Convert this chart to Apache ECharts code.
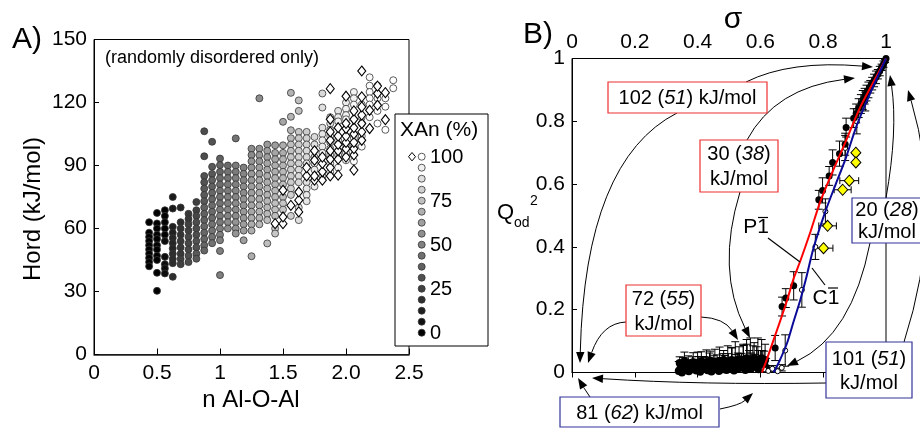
<!DOCTYPE html>
<html><head><meta charset="utf-8">
<script src="https://cdn.jsdelivr.net/npm/echarts@6/dist/echarts.min.js"></script>
<style>html,body{margin:0;padding:0;background:#fff}#c{width:920px;height:428px}</style>
</head><body><div id="c"></div>
<script>
// ---------- Panel A data ----------
const aXTickLabels = ['0','0.5','1','1.5','2.0','2.5'];
const aColX = [0.4375,0.5,0.5625,0.625,0.6875,0.75,0.8125,0.875,0.9375,1.0,1.0625,1.125,1.1875,1.25,1.3125,1.375,1.4375,1.5,1.5625,1.625,1.6875,1.75,1.8125,1.875,1.9375,2.0,2.0625,2.125,2.1875,2.25,2.3125,2.375];
// per column: [Hord, XAn]
const aColPts = [
 [[63,0],[58,0],[56,0],[54,0],[52,0],[50,0],[48,0],[46,0],[44,0],[42,0]],
 [[67.4,0],[62.4,0],[60,0],[57,0],[55,0],[52,0],[50,0],[47,0],[45,0],[38.9,0],[30.3,0]],
 [[68.7,0],[66,0],[63,0],[60,0],[57,0],[54,5],[46.5,5],[43,5],[41,5],[38.6,5]],
 [[75,10],[69.5,10],[60.8,12],[58,12],[55.5,15],[53,15],[50.5,15],[48,18],[45.5,18],[43.5,18],[37,18]],
 [[70,15],[63,18],[60,20],[57,20],[54,22],[51,22],[48,22],[45.5,25],[43,25]],
 [[67,22],[64.5,22],[62,25],[59,25],[56,28],[53,28],[50,28],[47,30],[44,30]],
 [[72.6,25],[68.7,25],[66,28],[63,30],[60,30],[57,30],[54,32],[51,32],[48,35],[45.6,35]],
 [[106.3,30],[94.4,30],[85,32],[82,32],[79,35],[76,35],[73,35],[70,38],[67,38],[64,38],[61,40],[58,40],[55,40],[52,40],[49.5,40]],
 [[101.3,32],[89.4,35],[86,35],[83,38],[80,38],[77,40],[74,40],[71,42],[68,42],[65,42],[62,45],[59,45],[56,45],[53,45]],
 [[93.3,38],[90.2,40],[87,40],[84,42],[81,42],[78,45],[75,45],[72,45],[69,48],[66,48],[63,48],[60,50],[57,50],[54.4,50],[49.3,50],[37.8,50]],
 [[90,42],[87,45],[84,45],[81,48],[78,48],[75,50],[72,50],[69,52],[66,52],[63,55],[60,55]],
 [[102.9,45],[90,48],[87,48],[84,50],[81,50],[78,52],[75,52],[72,55],[69,55],[66,55],[63,58],[60,58],[57.6,58]],
 [[89,50],[86,52],[83,52],[80,55],[77,55],[74,58],[71,58],[68,60],[65,60],[62,62],[59,62],[54.4,62]],
 [[98,55],[95,55],[92,58],[89,58],[86,60],[83,60],[80,62],[77,62],[74,65],[71,65],[68,65],[65,68],[62,68],[59,68],[46.8,68]],
 [[122,55],[98,58],[95,60],[92,60],[89,62],[86,62],[83,65],[80,65],[77,68],[74,68],[71,70],[68,70],[65,70],[62,72]],
 [[100,60],[97,62],[94,62],[91,65],[88,65],[85,68],[82,68],[79,70],[76,70],[73,72],[70,72],[67,72],[64,75],[52.9,75]],
 [[99.6,62],[96,65],[93,65],[90,68],[87,68],[84,70],[81,70],[78,72],[75,72],[72,75],[69,75],[66,75],[60,78],[57.6,78]],
 [[110.8,65],[99.6,68],[96,68],[93,70],[90,70],[87,72],[84,72],[81,75],[75,75],[72,78],[69,78]],
 [[124.6,70],[113.2,70],[106.8,72],[103,72],[100,75],[97,75],[94,78],[91,78],[88,80],[85,80],[82,80],[79,82],[76,82],[66,82]],
 [[121,75],[116,75],[106,78],[103,78],[100,80],[97,80],[94,82],[91,82],[88,85],[85,85],[82,85],[70,88],[64,88]],
 [[106,80],[103,82],[100,82],[97,85],[94,85],[91,88],[82,88],[79,90],[76,90],[73,90]],
 [[103.6,85],[100,88],[94,88],[91,90],[88,92],[80,92]],
 [[124.3,85],[117.6,88],[108,88],[105,90],[102,92],[99,92],[96,95],[85,95]],
 [[113,88],[110,90],[107,92],[104,95],[101,95],[98,95],[95,98],[91,98],[87,98]],
 [[116,90],[113,92],[111,95],[102,95],[95,98],[89,98]],
 [[120,92],[117,95],[114,95],[112,98],[100,98],[96,100],[92.5,100]],
 [[125,95],[122,95],[119,98],[103,98],[99,100],[92,100]],
 [[119,95],[113,98],[110,100],[104,100],[99,100]],
 [[132,98],[128,98],[125,100],[122,100],[119,100],[113,100]],
 [[128,100],[122,100],[116,100],[110,100]],
 [[122,100],[118,100],[107,100]],
 [[130.6,100],[126.8,100]]
];
const aDiamonds = [
 [1.4375,62.3],[1.5,62.3],[1.5,65.5],[1.5,78.2],[1.5625,71],[1.625,67.9],[1.625,73.5],[1.625,77.4],[1.6875,85],[1.6875,89],
 [1.75,83],[1.75,85],[1.75,92.5],[1.75,97],[1.8125,83],[1.8125,87],[1.8125,91],[1.8125,94],[1.875,85],[1.875,89],[1.875,93],
 [1.875,97],[1.875,102],[1.875,106],[1.875,112],[1.875,126.6],[1.9375,85.4],[1.9375,93],[1.9375,97],[1.9375,100],[1.9375,104],
 [1.9375,108],[2.0,94],[2.0,98],[2.0,101],[2.0,104],[2.0,107.6],[2.0,110],[2.0,123],[2.0625,87.8],[2.0625,95],[2.0625,98],
 [2.0625,101],[2.0625,105],[2.0625,108],[2.0625,112],[2.0625,116],[2.125,102],[2.125,106],[2.125,110],[2.125,114],[2.125,117.9],
 [2.125,122.7],[2.125,135],[2.1875,107.6],[2.1875,116.3],[2.25,118.7],[2.25,124.3],[2.25,127.8],[2.3125,111.8],[2.3125,124.7]
];
const aLegendXAn = [100,93.75,87.5,81.25,75,68.75,62.5,56.25,50,43.75,37.5,31.25,25,18.75,12.5,6.25,0];
const aLegendLabels = {0:'100',4:'75',8:'50',12:'25',16:'0'};

// ---------- Panel B data ----------
const bTickLabels = ['0','0.2','0.4','0.6','0.8','1'];
const bRedCurve = [[0.605,0],[0.62,0.04],[0.642,0.104],[0.665,0.17],[0.685,0.23],[0.706,0.3],[0.727,0.355],[0.76,0.45],[0.791,0.545],[0.83,0.64],[0.865,0.72],[0.918,0.845],[0.96,0.925],[1,1]];
const bBlueCurve = [[0.642,0],[0.66,0.035],[0.685,0.094],[0.705,0.16],[0.727,0.231],[0.748,0.31],[0.769,0.396],[0.807,0.513],[0.84,0.6],[0.87,0.677],[0.908,0.79],[0.95,0.89],[1,1]];
// [sigma, Q, errLow, errHigh]
const bBlackPts = [
 [0.647,0.078,0.04,0.04],[0.669,0.21,0.03,0.03],[0.681,0.237,0.03,0.03],[0.706,0.276,0.045,0.045],[0.786,0.55,0.03,0.03],
 [0.798,0.58,0.04,0.04],[0.819,0.626,0.03,0.03],[0.83,0.669,0.04,0.04],[0.852,0.697,0.04,0.04],[0.87,0.727,0.035,0.035],
 [0.873,0.78,0.03,0.03],[0.897,0.81,0.03,0.03],[0.905,0.825,0.03,0.03],[0.913,0.842,0.03,0.03],[0.92,0.855,0.03,0.03],
 [0.926,0.868,0.03,0.03],[0.932,0.88,0.025,0.025],[0.938,0.89,0.025,0.025],[0.944,0.9,0.025,0.025],[0.95,0.91,0.02,0.02],
 [0.956,0.92,0.02,0.02],[0.962,0.93,0.02,0.02],[0.968,0.94,0.02,0.02],[0.974,0.95,0.015,0.015],[0.98,0.96,0.015,0.015],
 [0.986,0.972,0.01,0.01],[0.992,0.982,0.01,0.01],[0.997,0.992,0.005,0.005],[1,1,0,0]
];
const bOpenPts = [
 [0.679,0.07,0.05,0.05],[0.732,0.263,0.055,0.055],[0.775,0.40,0.04,0.04],[0.807,0.513,0.04,0.04],[0.87,0.715,0.04,0.04],
 [0.907,0.80,0.04,0.04],[0.934,0.863,0.03,0.03],[0.612,0.01,0.01,0.01],[0.625,0.005,0.005,0.01],[0.638,0.012,0.01,0.01],
 [0.655,0.004,0.004,0.01],[0.668,0.015,0.01,0.01]
];
// [sigma, Q, xerr]
const bYellowPts = [[0.904,0.70,0],[0.904,0.669,0],[0.883,0.611,0.03],[0.862,0.582,0.027],[0.814,0.467,0.028],[0.801,0.396,0.03]];
const bBottomPts = [
 [0.34,0.005,0,0.03],[0.345,0.012,0,0.025],[0.35,0.0,0,0.02],[0.355,0.018,0,0.03],[0.36,0.008,0,0.035],[0.366,0.02,0,0.02],
 [0.372,0.004,0,0.03],[0.378,0.015,0,0.025],[0.384,0.01,0,0.04],[0.39,0.022,0,0.02],[0.396,0.006,0,0.03],[0.402,0.016,0,0.035],
 [0.408,0.002,0,0.03],[0.414,0.019,0,0.03],[0.42,0.011,0,0.04],[0.426,0.024,0,0.025],[0.432,0.007,0,0.03],[0.438,0.017,0,0.045],
 [0.444,0.003,0,0.03],[0.45,0.02,0,0.035],[0.456,0.012,0,0.03],[0.462,0.026,0,0.03],[0.468,0.005,0,0.04],[0.474,0.018,0,0.03],
 [0.48,0.01,0,0.05],[0.486,0.024,0,0.03],[0.492,0.008,0,0.035],[0.498,0.02,0,0.04],[0.504,0.014,0,0.03],[0.51,0.028,0,0.05],
 [0.516,0.006,0,0.04],[0.522,0.022,0,0.035],[0.528,0.012,0,0.05],[0.534,0.03,0,0.03],[0.54,0.016,0,0.045],[0.546,0.026,0,0.06],
 [0.552,0.008,0,0.04],[0.558,0.02,0,0.07],[0.564,0.03,0,0.04],[0.57,0.012,0,0.05],[0.576,0.025,0,0.06],[0.582,0.018,0,0.04],
 [0.588,0.032,0,0.05],[0.594,0.01,0,0.06],[0.6,0.03,0,0.04],[0.606,0.02,0,0.05],[0.612,0.028,0,0.04],[0.618,0.015,0,0.03],
 [0.343,0.03,0,0.02],[0.358,0.035,0,0.03],[0.37,0.028,0,0.025],[0.386,0.033,0,0.03],[0.4,0.03,0,0.035],[0.412,0.036,0,0.03],
 [0.428,0.032,0,0.04],[0.44,0.038,0,0.03],[0.455,0.034,0,0.04],[0.47,0.036,0,0.045],[0.483,0.04,0,0.03],[0.496,0.035,0,0.05],
 [0.508,0.04,0,0.04],[0.52,0.038,0,0.06],[0.532,0.042,0,0.04],[0.545,0.04,0,0.05],[0.556,0.045,0,0.06],[0.568,0.04,0,0.07],
 [0.58,0.045,0,0.05],[0.592,0.04,0,0.07],[0.604,0.045,0,0.06],[0.615,0.04,0,0.05]
];

// ---------- Annotation layout (pixels) ----------
const bBoxes = [
 {x:608,y:82,w:159,h:31,c:'#ee3030',t:'{n|102 (}{i|51}{n|) kJ/mol}',lh:24},
 {x:700,y:140,w:78,h:52,c:'#ee3030',t:'{n|30 (}{i|38}{n|)}\n{n|kJ/mol}',lh:25},
 {x:626,y:285,w:75,h:51,c:'#ee3030',t:'{n|72 (}{i|55}{n|)}\n{n|kJ/mol}',lh:25},
 {x:560,y:397,w:159,h:30,c:'#333399',t:'{n|81 (}{i|62}{n|) kJ/mol}',lh:24},
 {x:826,y:342,w:86,h:56,c:'#333399',t:'{n|101 (}{i|51}{n|)}\n{n|kJ/mol}',lh:24},
 {x:852,y:198,w:80,h:45,c:'#333399',t:'{n|20 (}{i|28}{n|)}\n{n|kJ/mol}',lh:22,cx:887}
];
const bArrows = [
 [746,82, 790,60, 873,67],
 [677,113, 585,160, 580,363],
 [747,140, 775,88, 855,78],
 [740,192, 716,270, 750,338],
 [626,322, 602,323, 588,363],
 [701,317, 724,318, 738,340],
 [590,397, 584,388, 578,378],
 [720,409, 740,405, 753,393],
 [826,383, 700,385, 592,378],
 [870,243, 852,335, 787,366],
 [886,198, 898,130, 890,75],
 [904,342, 945,215, 908,90]
];

const FONT = "'Liberation Sans', Arial, sans-serif";
function grayOf(an){ const v = Math.round(255*an/100); return 'rgb('+v+','+v+','+v+')'; }

const aCircleData = [];
aColX.forEach((x,i)=>aColPts[i].forEach(p=>aCircleData.push([x,p[0],p[1]])));

function vErr(params, api){
  const x=api.value(0), y=api.value(1), lo=api.value(2), hi=api.value(3);
  if (lo===0 && hi===0) return null;
  const p0=api.coord([x,y-lo]), p1=api.coord([x,y+hi]); const w=4;
  const st={stroke:'#000',lineWidth:1};
  const ch=[{type:'line',shape:{x1:p0[0],y1:p0[1],x2:p1[0],y2:p1[1]},style:st},
    {type:'line',shape:{x1:p1[0]-w,y1:p1[1],x2:p1[0]+w,y2:p1[1]},style:st}];
  if (lo>0) ch.push({type:'line',shape:{x1:p0[0]-w,y1:p0[1],x2:p0[0]+w,y2:p0[1]},style:st});
  return {type:'group',children:ch};
}
function hErr(params, api){
  const x=api.value(0), y=api.value(1), e=api.value(2);
  if (e===0) return null;
  const p0=api.coord([x-e,y]), p1=api.coord([x+e,y]); const w=3.5;
  const st={stroke:'#000',lineWidth:1};
  return {type:'group',children:[
    {type:'line',shape:{x1:p0[0],y1:p0[1],x2:p1[0],y2:p1[1]},style:st},
    {type:'line',shape:{x1:p0[0],y1:p0[1]-w,x2:p0[0],y2:p0[1]+w},style:st},
    {type:'line',shape:{x1:p1[0],y1:p1[1]-w,x2:p1[0],y2:p1[1]+w},style:st}
  ]};
}

const graphics = [];
function txt(x,y,text,size,opts){
  graphics.push({type:'text',x:x,y:y,z:100,style:Object.assign({text:text,font:size+'px '+FONT,fill:'#000',textAlign:'center',textVerticalAlign:'middle'},opts||{})});
}
// panel labels / axis names
txt(27,40,'A)',30);
txt(538,35,'B)',30);
txt(733,20,'σ',30);
txt(251,400,'n Al-O-Al',24);
graphics.push({type:'text',x:33,y:209,rotation:Math.PI/2,z:100,style:{text:'Hord (kJ/mol)',font:'24px '+FONT,fill:'#000',textAlign:'center',textVerticalAlign:'middle'}});
txt(105,58,'(randomly disordered only)',18,{textAlign:'left'});
txt(497,213,'Q',22,{textAlign:'left'});
txt(514,223,'od',14,{textAlign:'left'});
txt(530,201,'2',14,{textAlign:'left'});
// legend A
graphics.push({type:'rect',z:90,shape:{x:395,y:114,width:93,height:232},style:{fill:'#fff',stroke:'#000',lineWidth:1}});
txt(400,130,'XAn (%)',21,{textAlign:'left'});
aLegendXAn.forEach((an,i)=>{
  const cy=156.7+11*i;
  graphics.push({type:'circle',z:100,shape:{cx:421.7,cy:cy,r:3.5},style:{fill:grayOf(an),stroke:'#333',lineWidth:0.8}});
  if (aLegendLabels[i]!==undefined) txt(430,cy+1,aLegendLabels[i],20,{textAlign:'left'});
});
graphics.push({type:'polygon',z:100,shape:{points:[[412,152.5],[415.5,156.7],[412,160.9],[408.5,156.7]]},style:{fill:'#fff',stroke:'#000',lineWidth:1}});
// arrows
bArrows.forEach(a=>{
  const [x1,y1,cx,cy,x2,y2]=a;
  const ang=Math.atan2(y2-cy,x2-cx), L=11, W=4.2;
  const bx=x2-L*Math.cos(ang), by=y2-L*Math.sin(ang);
  const px=-Math.sin(ang)*W, py=Math.cos(ang)*W;
  graphics.push({type:'bezierCurve',z:80,shape:{x1:x1,y1:y1,x2:bx,y2:by,cpx1:cx,cpy1:cy},style:{stroke:'#000',lineWidth:1,fill:null}});
  graphics.push({type:'polygon',z:80,shape:{points:[[x2,y2],[bx+px,by+py],[bx-px,by-py]]},style:{fill:'#000'}});
});
// boxes
bBoxes.forEach(b=>{
  graphics.push({type:'rect',z:90,shape:{x:b.x,y:b.y,width:b.w,height:b.h},style:{fill:'#fff',stroke:b.c,lineWidth:1.2}});
  graphics.push({type:'text',z:100,x:(b.cx||b.x+b.w/2),y:b.y+b.h/2+1,style:{text:b.t,textAlign:'center',textVerticalAlign:'middle',fill:'#000',
    rich:{n:{fontSize:20,fontFamily:FONT,lineHeight:b.lh,fill:'#000'},i:{fontSize:20,fontFamily:FONT,fontStyle:'italic',lineHeight:b.lh,fill:'#000'}}}});
});
// P-1 and C-1 labels
txt(756,227,'P1',21);
graphics.push({type:'line',z:100,shape:{x1:758,y1:217.5,x2:768,y2:217.5},style:{stroke:'#000',lineWidth:1.2}});
graphics.push({type:'line',z:100,shape:{x1:768,y1:238,x2:800,y2:262},style:{stroke:'#000',lineWidth:1.2}});
txt(826,298,'C1',21);
graphics.push({type:'line',z:100,shape:{x1:828,y1:288,x2:838,y2:288},style:{stroke:'#000',lineWidth:1.2}});
graphics.push({type:'line',z:100,shape:{x1:812,y1:268,x2:825,y2:285},style:{stroke:'#000',lineWidth:1.2}});

const lab = {fontSize:21,color:'#000',fontFamily:FONT};
const chart = echarts.init(document.getElementById('c'),null,{renderer:'canvas'});
chart.setOption({
  animation:false,
  backgroundColor:'#fff',
  grid:[
    {left:94,top:39.5,width:315,height:315,show:true,borderColor:'#000',borderWidth:1},
    {left:572,top:58.5,width:314,height:314,show:true,borderColor:'#000',borderWidth:1}
  ],
  xAxis:[
    {gridIndex:0,type:'value',min:0,max:2.5,interval:0.5,splitLine:{show:false},
     axisLine:{lineStyle:{color:'#222',width:1.5}},axisTick:{inside:true,length:6,lineStyle:{color:'#000'}},
     axisLabel:Object.assign({margin:8,formatter:v=>aXTickLabels[Math.round(v/0.5)]},lab)},
    {gridIndex:1,type:'value',position:'top',min:0,max:1,interval:0.2,splitLine:{show:false},
     axisLine:{lineStyle:{color:'#000',width:1}},axisTick:{inside:true,length:5,lineStyle:{color:'#000'}},
     axisLabel:Object.assign({margin:6,formatter:v=>bTickLabels[Math.round(v/0.2)]},lab)}
  ],
  yAxis:[
    {gridIndex:0,type:'value',min:0,max:150,interval:30,splitLine:{show:false},
     axisLine:{lineStyle:{color:'#000',width:1}},axisTick:{inside:true,length:5,lineStyle:{color:'#000'}},
     axisLabel:Object.assign({margin:7},lab)},
    {gridIndex:1,type:'value',min:0,max:1,interval:0.2,splitLine:{show:false},
     axisLine:{lineStyle:{color:'#000',width:1}},axisTick:{inside:true,length:5,lineStyle:{color:'#000'}},
     axisLabel:Object.assign({margin:7,formatter:v=>bTickLabels[Math.round(v/0.2)]},lab)}
  ],
  graphic:graphics,
  series:[
    {type:'scatter',xAxisIndex:0,yAxisIndex:0,data:aCircleData,symbol:'circle',symbolSize:7,
     itemStyle:{color:p=>grayOf(p.value[2]),borderColor:'#333',borderWidth:0.8,opacity:1}},
    {type:'scatter',xAxisIndex:0,yAxisIndex:0,data:aDiamonds,symbol:'diamond',symbolSize:[8,10],
     itemStyle:{color:'#fff',borderColor:'#000',borderWidth:1.1,opacity:1}},
    {type:'custom',xAxisIndex:1,yAxisIndex:1,data:bBottomPts,renderItem:vErr,encode:{x:0,y:1},clip:false},
    {type:'scatter',xAxisIndex:1,yAxisIndex:1,data:bBottomPts,symbol:'circle',symbolSize:8,
     itemStyle:{color:'#000',opacity:1}},
    {type:'custom',xAxisIndex:1,yAxisIndex:1,data:bOpenPts,renderItem:vErr,encode:{x:0,y:1},clip:false},
    {type:'custom',xAxisIndex:1,yAxisIndex:1,data:bBlackPts,renderItem:vErr,encode:{x:0,y:1},clip:false},
    {type:'line',xAxisIndex:1,yAxisIndex:1,data:bRedCurve,smooth:0.3,symbol:'none',lineStyle:{color:'#ff0000',width:2}},
    {type:'line',xAxisIndex:1,yAxisIndex:1,data:bBlueCurve,smooth:0.3,symbol:'none',lineStyle:{color:'#0a0a99',width:2}},
    {type:'scatter',xAxisIndex:1,yAxisIndex:1,data:bOpenPts,symbol:'circle',symbolSize:5,
     itemStyle:{color:'#fff',borderColor:'#000',borderWidth:1,opacity:1}},
    {type:'scatter',xAxisIndex:1,yAxisIndex:1,data:bBlackPts,symbol:'circle',symbolSize:7,
     itemStyle:{color:'#000',opacity:1}},
    {type:'custom',xAxisIndex:1,yAxisIndex:1,data:bYellowPts,renderItem:hErr,encode:{x:0,y:1},clip:false},
    {type:'scatter',xAxisIndex:1,yAxisIndex:1,data:bYellowPts,symbol:'diamond',symbolSize:[10,11],
     itemStyle:{color:'#ffff00',borderColor:'#000',borderWidth:1,opacity:1}}
  ]
});
</script></body></html>
